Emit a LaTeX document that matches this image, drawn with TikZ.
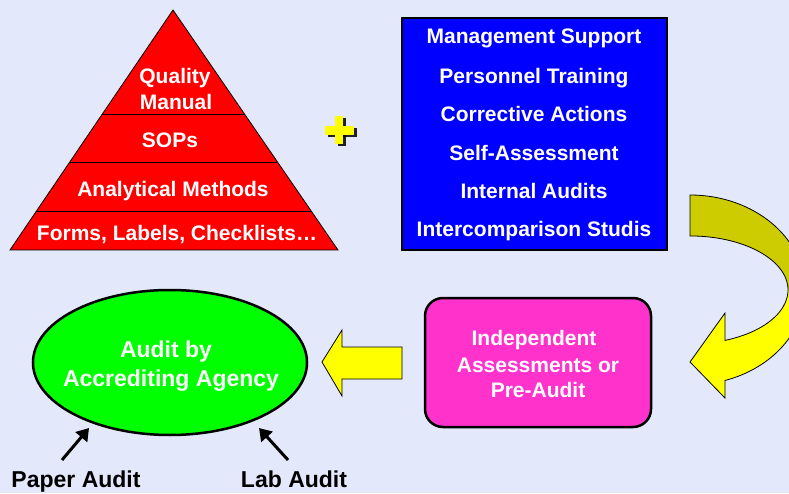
\documentclass[tikz,border=0pt]{standalone}
\usepackage{fontspec}
\setmainfont{Liberation Sans}
\usetikzlibrary{shapes.geometric,arrows.meta,calc}

\definecolor{bg}{RGB}{227,232,250}
\definecolor{pyrred}{RGB}{255,0,0}
\definecolor{boxblue}{RGB}{0,0,255}
\definecolor{agreen}{RGB}{0,255,0}
\definecolor{apink}{RGB}{255,51,204}
\definecolor{ayellow}{RGB}{255,255,0}
\definecolor{aolive}{RGB}{204,204,0}

\begin{document}
\begin{tikzpicture}[x=1pt,y=1pt,
  wtxt/.style={font=\bfseries\fontsize{21}{21}\selectfont, text=white,
    inner sep=0pt, text height=15pt, text depth=0pt},
  btxt/.style={wtxt, font=\bfseries\fontsize{23}{23}\selectfont, text height=16.5pt},
  ltxt/.style={wtxt, text=black, font=\bfseries\fontsize{23}{23}\selectfont, text height=16.5pt},
  blockarrow/.style={fill=ayellow, draw=black, line width=0.8pt, line join=miter},
  pointer/.style={draw=black, line width=3pt, -{Triangle[length=12pt,width=15pt]}}]

\clip (0,0) rectangle (789,493);
\fill[bg] (0,0) rectangle (789,493);

% ---------- pyramid of documents ----------
\coordinate (apex) at (173,483);
\coordinate (bl) at (10,243);
\coordinate (br) at (338,243);
\filldraw[fill=pyrred, draw=black, line width=0.8pt, line join=miter]
  (bl) -- (apex) -- (br) -- cycle;
\foreach \t in {0.1625,0.3667,0.5667}
  \draw[line width=0.8pt] ($(bl)!\t!(apex)$) -- ($(br)!\t!(apex)$);

\node[wtxt] (qm1) at (175,417)   {Quality};
\node[wtxt] (qm2) at (176,390.5) {Manual};
\node[wtxt] (sops) at (170,352.5) {SOPs};
\node[wtxt] (meth) at (173,304)  {Analytical Methods};
\node[wtxt] (forms) at (177,259.5) {Forms, Labels, Checklists\ldots};

% ---------- plus sign ----------
\begin{scope}[shift={(2.5,-2.5)}]
  \fill[black, opacity=0.85] (335,349) rectangle (343,377);
  \fill[black, opacity=0.85] (325,358) rectangle (354,367);
\end{scope}
\fill[ayellow] (335,349) rectangle (343,377);
\fill[ayellow] (325,358) rectangle (354,367);

% ---------- management box ----------
\node[draw=black, fill=boxblue, line width=2.5pt, inner sep=0pt,
      minimum width=265pt, minimum height=232pt] (support) at (534.5,359) {};
\node[wtxt] (s1) at (534,456.5) {Management Support};
\node[wtxt] (s2) at (534,417)   {Personnel Training};
\node[wtxt] (s3) at (534,379)   {Corrective Actions};
\node[wtxt] (s4) at (534,340)   {Self-Assessment};
\node[wtxt] (s5) at (534,301.5) {Internal Audits};
\node[wtxt] (s6) at (534,264)   {Intercomparison Studis};

% ---------- curved arrow down the right side ----------
\def\curvedarrow{(690,298) arc[start angle=90, end angle=-72.3, x radius=115, y radius=95]
  -- (725,95) -- (690,131) -- (725,180) -- (725,152.6)
  arc[start angle=-69.1, end angle=90, x radius=98, y radius=54] -- cycle}
\fill[ayellow] \curvedarrow;
\fill[aolive] (690,298) arc[start angle=90, end angle=0, x radius=115, y radius=95]
  -- (788,203) arc[start angle=0, end angle=90, x radius=98, y radius=54] -- cycle;
\draw[black, line width=0.8pt, line join=miter] \curvedarrow;

% ---------- pre-audit box ----------
\node[draw=black, fill=apink, line width=2.5pt, rounded corners=18pt, inner sep=0pt,
      minimum width=226pt, minimum height=129pt] (pre) at (538,130.5) {};
\node[wtxt] (p1) at (534,154.7) {Independent};
\node[wtxt] (p2) at (538,128)   {Assessments or};
\node[wtxt] (p3) at (538,103.5) {Pre-Audit};

% ---------- block arrow towards the agency ----------
\draw[blockarrow] (402,146) -- (342,146) -- (342,163) -- (322,131)
  -- (342,97) -- (342,114) -- (402,114) -- cycle;

% ---------- accrediting agency ----------
\node[ellipse, draw=black, fill=agreen, line width=2.5pt, inner sep=0pt,
      minimum width=274pt, minimum height=145pt] (agency) at (170,130.5) {};
\node[btxt] (a1) at (166,144) {Audit by};
\node[btxt] (a2) at (171,115) {Accrediting Agency};

% ---------- audit kinds ----------
\node[ltxt] (paper) at (76,14) {Paper Audit};
\node[ltxt] (lab) at (294,14) {Lab Audit};
\coordinate (paperfrom) at (62,33);
\coordinate (paperto) at (89,65);
\coordinate (labfrom) at (288,33);
\coordinate (labto) at (259,65);
\draw[pointer] (paperfrom) -- (paperto);
\draw[pointer] (labfrom) -- (labto);

\end{tikzpicture}
\end{document}
